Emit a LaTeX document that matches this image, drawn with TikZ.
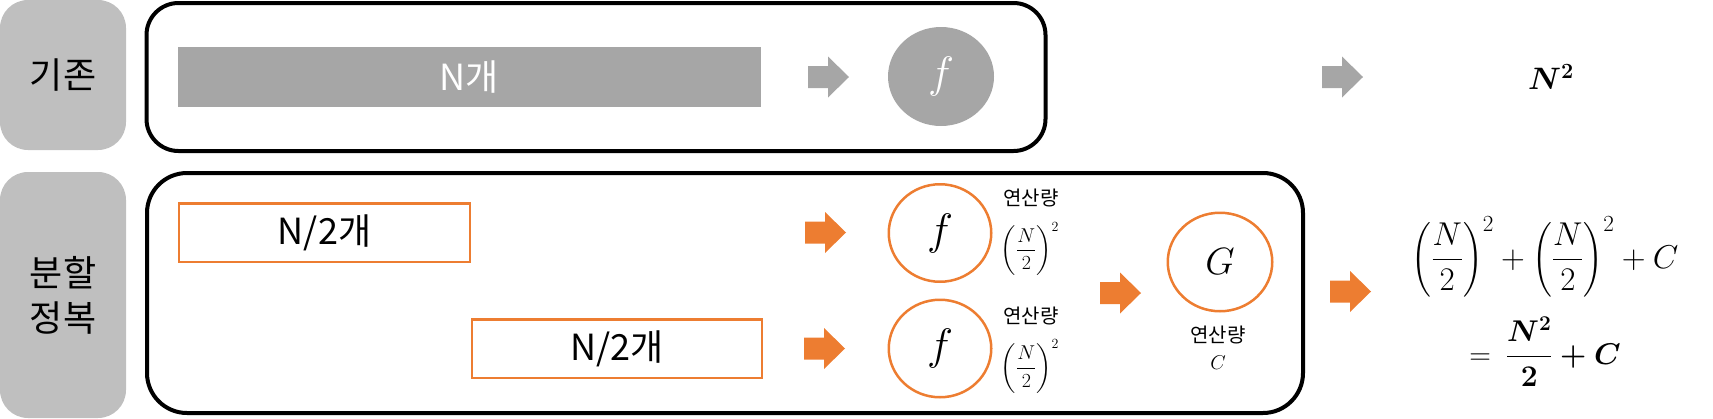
\RequirePackage{fix-cm}
\documentclass[tikz,border=0pt]{standalone}
\usepackage{amsmath}
\usepackage{fontspec}
\setmainfont{Noto Sans CJK KR}
\usetikzlibrary{shapes.geometric}
\definecolor{lblgray}{HTML}{BFBFBF}
\definecolor{bargray}{HTML}{A6A6A6}
\definecolor{orng}{HTML}{ED7D31}
\tikzset{
  lblbox/.style={fill=lblgray, rounded corners=28pt, minimum width=126pt, align=center,
    font=\fontsize{36}{45}\selectfont},
  panel/.style={draw=black, line width=4pt, rounded corners=32pt},
  orbox/.style={draw=orng, line width=2.5pt, fill=white, minimum height=58.5pt,
    font=\fontsize{36}{40}\selectfont},
  orcirc/.style={ellipse, draw=orng, line width=2.5pt, fill=white,
    minimum width=102.5pt, minimum height=97.5pt, font=\fontsize{38}{40}\selectfont},
  cost/.style={font=\fontsize{20}{22}\selectfont},
  costmath/.style={font=\fontsize{20}{22}\selectfont},
  pics/blkarrow/.style={code={
    \fill[#1] (0,-11) -- (20,-11) -- (20,-20.5) -- (41,0) -- (20,20.5) -- (20,11) -- (0,11) -- cycle;}}
}
\begin{document}
\begin{tikzpicture}[x=1pt,y=-1pt, every node/.style={inner sep=0pt, outer sep=0pt}]
\useasboundingbox (0,0) rectangle (1713,418);

% side labels
\node[lblbox, minimum height=150pt] (lab1) at (63,75) {기존};
\node[lblbox, minimum height=246pt] (lab2) at (63,295) {분할\\정복};

% panels
\node[panel, minimum width=899pt, minimum height=148pt] (toppanel) at (596,77) {};
\node[panel, minimum width=1156pt, minimum height=240pt, rounded corners=40pt] (botpanel) at (725,293) {};

% top row
\node[fill=bargray, minimum width=583pt, minimum height=60pt, text=white,
  font=\fontsize{36}{40}\selectfont] (bar) at (469.5,77) {N개};
\pic at (808,77) {blkarrow=bargray};
\node[ellipse, fill=bargray, minimum width=106pt, minimum height=99pt, text=white,
  font=\fontsize{44}{46}\selectfont] (fg) at (941,76.5) {$f$};
\pic at (1322,77) {blkarrow=bargray};
\node (n2) at (1551,77) {\fontsize{31}{33}\selectfont$\boldsymbol{N^{2}}$};

% bottom row
\node[orbox, minimum width=291pt] (half1) at (324.5,232.5) {N/2개};
\node[orbox, minimum width=290pt] (half2) at (617,348.5) {N/2개};
\pic at (805,232.5) {blkarrow=orng};
\pic at (804,348.5) {blkarrow=orng};
\node[orcirc, font=\fontsize{44}{46}\selectfont] (f1) at (940,233) {$f$};
\node[orcirc, font=\fontsize{44}{46}\selectfont] (f2) at (940,348.5) {$f$};
\node[cost] (c1) at (1031,198) {연산량};
\node[costmath] (m1) at (1030,249) {$\displaystyle\left(\frac{N}{2}\right)^{2}$};
\node[cost] (c2) at (1031,315.5) {연산량};
\node[costmath] (m2) at (1030,366.5) {$\displaystyle\left(\frac{N}{2}\right)^{2}$};
\pic at (1100,293) {blkarrow=orng};
\node[orcirc, minimum width=104.5pt, minimum height=98.5pt] (g) at (1220,262) {$G$};
\node[cost] (c3) at (1218,335) {연산량};
\node[costmath] (m3) at (1218,363) {$C$};
\pic at (1330,291.5) {blkarrow=orng};

% result
\node (e1) at (1545,257) {\fontsize{33}{36}\selectfont$\displaystyle\left(\frac{N}{2}\right)^{2}+\left(\frac{N}{2}\right)^{2}+C$};
\node (e2) at (1545,352) {\fontsize{30}{34}\selectfont$\displaystyle=\ \boldsymbol{\frac{N^{2}}{2}+C}$};
\end{tikzpicture}
\end{document}
